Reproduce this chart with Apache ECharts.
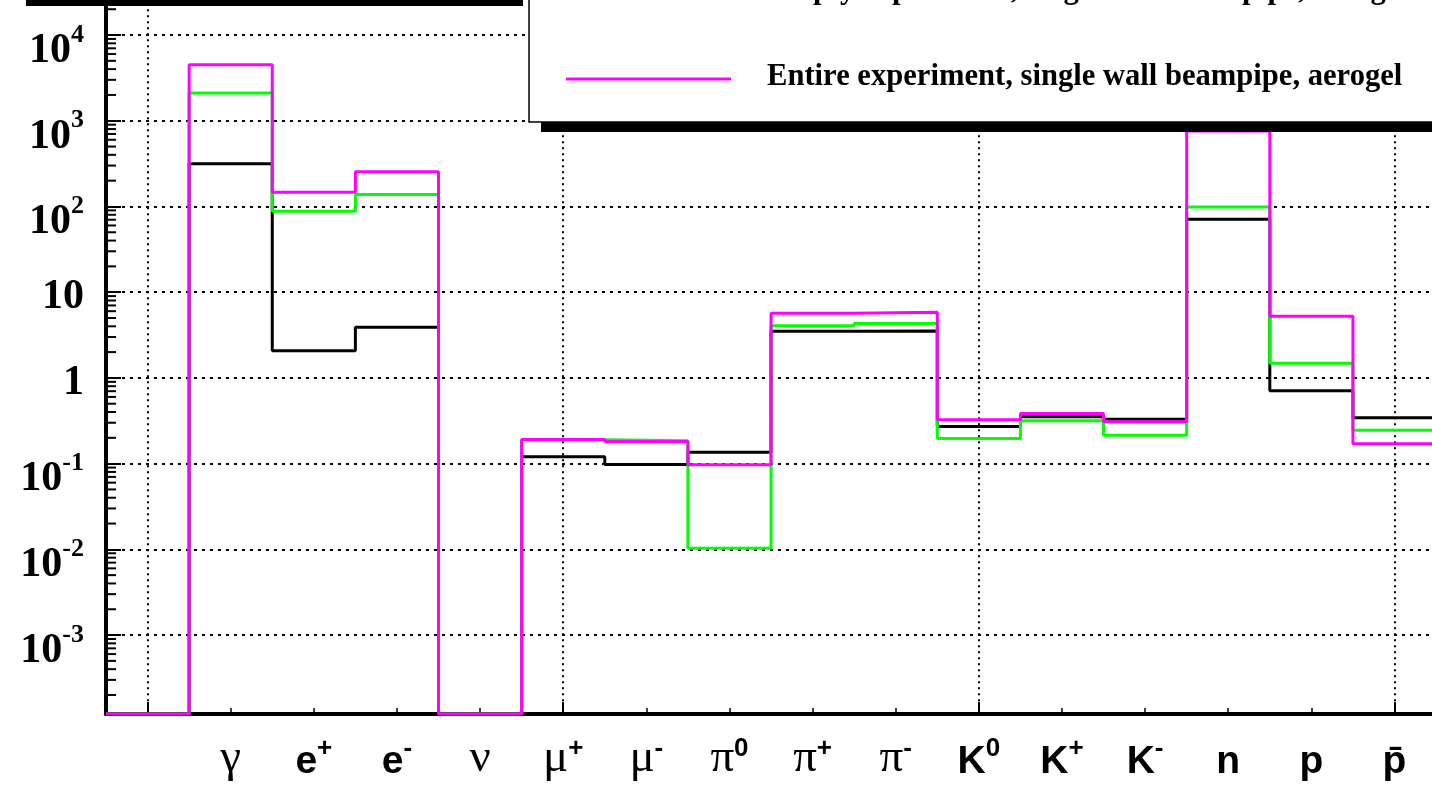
<!DOCTYPE html>
<html><head><meta charset="utf-8">
<script src="https://cdn.jsdelivr.net/npm/echarts@6/dist/echarts.min.js"></script>
<style>html,body{margin:0;padding:0;background:#fff}#c{width:1432px;height:789px}</style>
</head><body><div id="c"></div>
<script>
// bins 0..16 (bin 0 and 16 have no particle label)
const binIds   = ['b0','g','ep','em','nu','mup','mum','pi0','pip','pim','K0','Kp','Km','n','p','pbar','b16'];
const labelBase = ['', 'γ', 'e', 'e', 'ν', 'μ', 'μ', 'π', 'π', 'π', 'K', 'K', 'K', 'n', 'p', 'p\u0304', ''];
const labelSup  = ['', '', '+', '-', '', '+', '-', '0', '+', '-', '0', '+', '-', '', '', '', ''];
const greekLabels = ['γ', 'ν', 'μ', 'π'];

// histogram contents per bin (bins 0..15); 0 = empty bin
const blackVals   = [0, 315, 2.08, 3.9, 0, 0.12, 0.098, 0.136, 3.5, 3.53, 0.271, 0.352, 0.33, 70.8, 0.708, 0.342];
const greenVals   = [0, 2100, 88, 138, 0, 0.19, 0.185, 0.0103, 4.07, 4.3, 0.196, 0.316, 0.214, 98.7, 1.48, 0.245];
const magentaVals = [0, 4500, 146, 254, 0, 0.191, 0.181, 0.097, 5.68, 5.83, 0.324, 0.385, 0.307, 760, 5.24, 0.171];

const legendTexts = ['Empty experiment, single wall beampipe, aerogel', 'Entire experiment, single wall beampipe, aerogel'];

// axis settings
const Y_MIN = 1.2e-4, Y_MAX = 1e5;
const minorMultipliers = [2, 3, 4, 5, 6, 7, 8, 9];
const decades = [-4, -3, -2, -1, 0, 1, 2, 3, 4];

function steps(vals) {
  const pts = [];
  vals.forEach((v, i) => {
    const y = v > 0 ? v : Y_MIN;
    pts.push([i - 0.5, y], [i + 0.5, y]);
  });
  return pts;
}

const yMinorTicks = [];
decades.forEach(d => minorMultipliers.forEach(m => {
  const v = m * Math.pow(10, d);
  if (v > Y_MIN && v < Y_MAX) yMinorTicks.push([-0.5, v]);
}));

const chart = echarts.init(document.getElementById('c'), null, {renderer: 'canvas'});

const serif = 'Liberation Serif';
const sans = 'Liberation Sans';

const option = {
  animation: false,
  backgroundColor: '#fff',
  grid: {left: 106, top: -50.7, width: 1413.2, height: 764.7, containLabel: false, outerBoundsMode: 'none'},
  xAxis: [
    {
      type: 'value', min: -0.5, max: 16.5, splitNumber: 3, position: 'bottom',
      axisLine: {show: false, onZero: false},
      axisTick: {show: true, inside: true, length: 12, lineStyle: {color: '#000', width: 2}},
      axisLabel: {show: false},
      splitLine: {show: true, showMinLine: false, showMaxLine: false, lineStyle: {color: '#000', width: 2, type: [2, 4]}}
    },
    {
      type: 'category', data: binIds, boundaryGap: true, position: 'bottom',
      axisLine: {show: true, onZero: false, lineStyle: {color: '#000', width: 4}},
      axisTick: {show: true, inside: true, alignWithLabel: true, length: 6, lineStyle: {color: '#000', width: 1.5}},
      splitLine: {show: false},
      axisLabel: {
        interval: 0, margin: 22, color: '#000',
        formatter: function (val, idx) {
          const b = labelBase[idx], s = labelSup[idx];
          if (!b) return '';
          const tok = greekLabels.indexOf(b) >= 0 ? 'G' : 'L';
          return '{' + tok + '|' + b + '}' + (s ? '{S|' + s + '}' : '');
        },
        rich: {
          L: {fontFamily: sans, fontWeight: 'bold', fontSize: 39, lineHeight: 46, verticalAlign: 'bottom', color: '#000'},
          G: {fontFamily: serif, fontWeight: 'normal', fontSize: 47, lineHeight: 46, verticalAlign: 'bottom', color: '#000'},
          S: {fontFamily: sans, fontWeight: 'bold', fontSize: 26, lineHeight: 26, verticalAlign: 'top', color: '#000'}
        }
      }
    }
  ],
  yAxis: {
    type: 'log', logBase: 10, min: Y_MIN, max: Y_MAX,
    axisLine: {show: true, onZero: false, lineStyle: {color: '#000', width: 4}},
    axisTick: {show: true, inside: true, length: 15, lineStyle: {color: '#000', width: 2}},
    splitLine: {show: true, showMinLine: false, showMaxLine: false, lineStyle: {color: '#000', width: 2, type: [3, 5]}},
    axisLabel: {
      showMinLabel: false, showMaxLabel: false, margin: 22, color: '#000',
      formatter: function (v) {
        const e = Math.round(Math.log10(v));
        if (e === 0) return '{p|1}';
        if (e === 1) return '{p|10}';
        return '{b|10}{s|' + e + '}';
      },
      rich: {
        p: {fontFamily: serif, fontWeight: 'bold', fontSize: 42, lineHeight: 52, verticalAlign: 'bottom', color: '#000'},
        b: {fontFamily: serif, fontWeight: 'bold', fontSize: 42, lineHeight: 74, verticalAlign: 'bottom', color: '#000'},
        s: {fontFamily: serif, fontWeight: 'bold', fontSize: 26, lineHeight: 26, verticalAlign: 'middle', color: '#000'}
      }
    }
  },
  series: [
    {name: 'black', type: 'line', xAxisIndex: 0, data: steps(blackVals), showSymbol: false, symbol: 'none',
     lineStyle: {color: '#000000', width: 3}, z: 3},
    {name: 'green', type: 'line', xAxisIndex: 0, data: steps(greenVals), showSymbol: false, symbol: 'none',
     lineStyle: {color: '#00ff00', width: 3}, z: 4},
    {name: 'magenta', type: 'line', xAxisIndex: 0, data: steps(magentaVals), showSymbol: false, symbol: 'none',
     lineStyle: {color: '#ff00ff', width: 3}, z: 5},
    {name: 'yMinorTicks', type: 'custom', xAxisIndex: 0, yAxisIndex: 0, data: yMinorTicks, silent: true, z: 6,
     renderItem: function (params, api) {
       const p = api.coord([api.value(0), api.value(1)]);
       return {type: 'line', shape: {x1: p[0], y1: p[1], x2: p[0] + 10, y2: p[1]}, style: {stroke: '#000', lineWidth: 2}};
     }}
  ],
  graphic: [
    {type: 'rect', z: 100, shape: {x: 26, y: -10, width: 497, height: 16}, style: {fill: '#000'}},
    {type: 'rect', z: 100, shape: {x: 529, y: -200, width: 1000, height: 322}, style: {fill: '#fff', stroke: '#000', lineWidth: 1.5}},
    {type: 'rect', z: 101, shape: {x: 541, y: 122, width: 1000, height: 10}, style: {fill: '#000'}},
    {type: 'line', z: 101, shape: {x1: 566, y1: -9, x2: 731, y2: -9}, style: {stroke: '#00ff00', lineWidth: 3}},
    {type: 'text', z: 101, x: 767, y: -10, style: {text: legendTexts[0], font: 'bold 30.6px "Liberation Serif"', fill: '#000', verticalAlign: 'middle'}},
    {type: 'line', z: 101, shape: {x1: 566, y1: 79, x2: 731, y2: 79}, style: {stroke: '#ff00ff', lineWidth: 3}},
    {type: 'text', z: 101, x: 767, y: 77, style: {text: legendTexts[1], font: 'bold 30.6px "Liberation Serif"', fill: '#000', verticalAlign: 'middle'}}
  ]
};
chart.setOption(option);
</script>
</body></html>
